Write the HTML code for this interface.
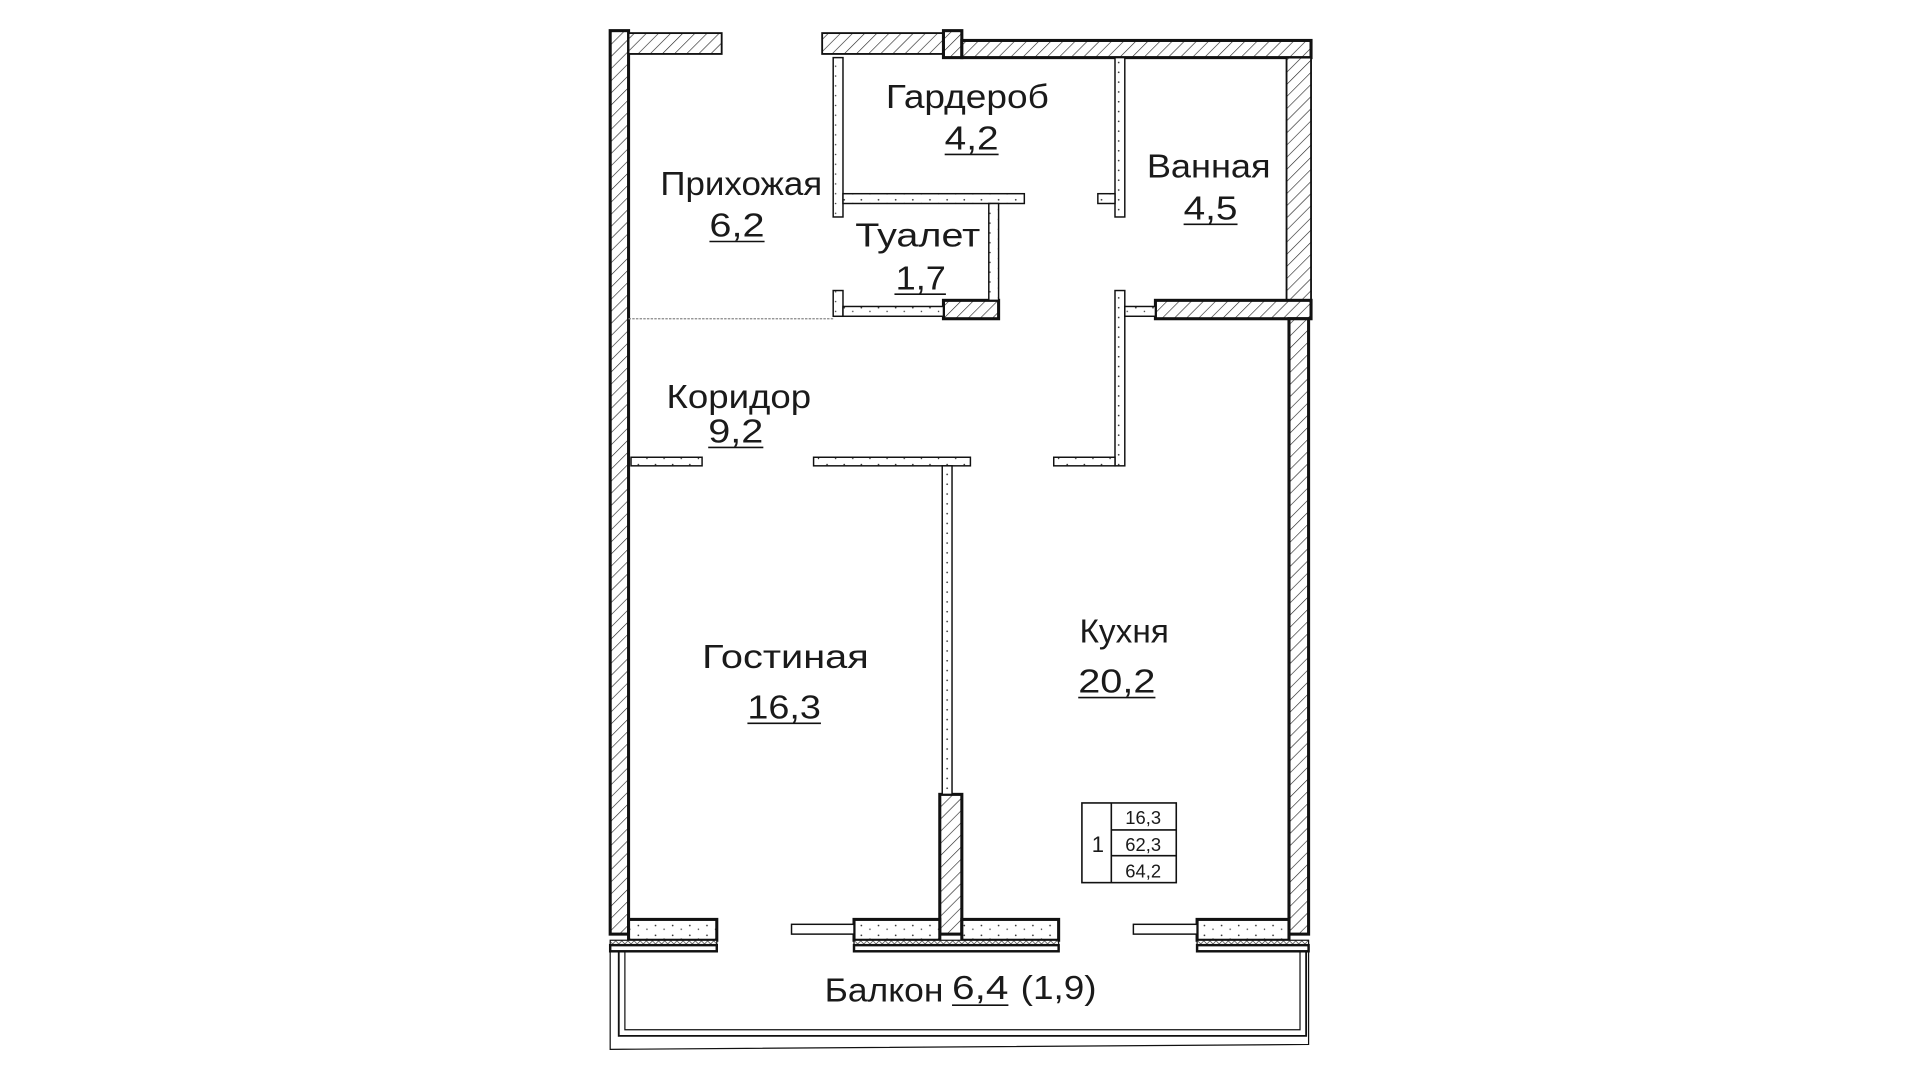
<!DOCTYPE html>
<html><head><meta charset="utf-8"><style>
html,body{margin:0;padding:0;background:#fff;width:1920px;height:1080px;overflow:hidden}
svg{display:block}
text{font-family:"Liberation Sans","DejaVu Sans",sans-serif;fill:#1a1a1a}
</style></head><body>
<svg width="1920" height="1080" viewBox="0 0 1567 881" preserveAspectRatio="none">
<defs>
<pattern id="h" width="7" height="7" patternUnits="userSpaceOnUse" patternTransform="rotate(45)">
<rect width="7" height="7" fill="#fff"/><line x1="0" y1="0" x2="0" y2="7" stroke="#222" stroke-width="1"/></pattern>
<pattern id="d" width="14" height="8" patternUnits="userSpaceOnUse">
<rect width="14" height="8" fill="#fff"/><circle cx="3" cy="3" r="0.7" fill="#333"/><circle cx="10" cy="6" r="0.6" fill="#333"/></pattern>
<pattern id="x" width="5" height="5" patternUnits="userSpaceOnUse">
<rect width="5" height="5" fill="#fff"/><path d="M0 0L5 5M5 0L0 5" stroke="#444" stroke-width="0.6"/></pattern>
</defs>
<g stroke="#111" stroke-width="1.5">
<rect x="498" y="25" width="15" height="737" fill="url(#h)" stroke-width="2.5"/>
<rect x="513" y="27" width="76" height="17" fill="url(#h)"/>
<rect x="671" y="27" width="99" height="17" fill="url(#h)"/>
<rect x="770" y="25" width="15" height="22" fill="url(#h)" stroke-width="2.5"/>
<rect x="785" y="33" width="285" height="14" fill="url(#h)" stroke-width="2.5"/>
<rect x="1050" y="47" width="20" height="198" fill="url(#h)"/>
<rect x="943" y="245" width="127" height="15" fill="url(#h)" stroke-width="2.5"/>
<rect x="1052" y="260" width="16" height="502" fill="url(#h)" stroke-width="2.5"/>
<rect x="770" y="245" width="45" height="15" fill="url(#h)" stroke-width="2.5"/>
<rect x="767" y="648" width="18" height="114" fill="url(#h)" stroke-width="2.5"/>
<g fill="url(#d)" stroke-width="1.2">
<rect x="680" y="47" width="8" height="130"/>
<rect x="688" y="158" width="148" height="8"/>
<rect x="807" y="166" width="8" height="79"/>
<rect x="680" y="237" width="8" height="21"/>
<rect x="688" y="250" width="82" height="8"/>
<rect x="910" y="47" width="8" height="130"/>
<rect x="896" y="158" width="14" height="8"/>
<rect x="910" y="237" width="8" height="143"/>
<rect x="918" y="250" width="25" height="8"/>
<rect x="860" y="373" width="50" height="7"/>
<rect x="515" y="373" width="58" height="7"/>
<rect x="664" y="373" width="128" height="7"/>
<rect x="769" y="380" width="8" height="268"/>
<rect x="513" y="750" width="72" height="17" stroke-width="2.5"/>
<rect x="697" y="750" width="70" height="17" stroke-width="2.5"/>
<rect x="785" y="750" width="79" height="17" stroke-width="2.5"/>
<rect x="977" y="750" width="75" height="17" stroke-width="2.5"/>
</g>
<g fill="url(#x)" stroke-width="1">
<rect x="498" y="767" width="87" height="4"/>
<rect x="697" y="767" width="167" height="4"/>
<rect x="977" y="767" width="91" height="4"/>
</g>
<g fill="#fff" stroke-width="2">
<rect x="498" y="771" width="87" height="5"/>
<rect x="697" y="771" width="167" height="5"/>
<rect x="977" y="771" width="91" height="5"/>
</g>
<rect x="646" y="754" width="51" height="8" fill="#fff" stroke-width="1.2"/>
<rect x="925" y="754" width="52" height="8" fill="#fff" stroke-width="1.2"/>
<path d="M505 776V845H1066V776" fill="none" stroke-width="1.5"/>
<path d="M510 776V840H1061V776" fill="none" stroke-width="1"/>
<path d="M498 776V856L1068 852V776" fill="none" stroke-width="1"/>
<line x1="513" y1="260" x2="680" y2="260" stroke="#888" stroke-width="1" stroke-dasharray="2,1"/>
<rect x="883" y="655" width="77" height="65" fill="none" stroke-width="1.3"/>
<line x1="907" y1="655" x2="907" y2="720" stroke-width="1.3"/>
<line x1="907" y1="677" x2="960" y2="677" stroke-width="1.3"/>
<line x1="907" y1="698" x2="960" y2="698" stroke-width="1.3"/>
</g>
<g font-size="27">
<text x="723" y="88" textLength="133" lengthAdjust="spacingAndGlyphs">Гардероб</text>
<text x="539" y="159" textLength="132" lengthAdjust="spacingAndGlyphs">Прихожая</text>
<text x="698" y="201" textLength="102" lengthAdjust="spacingAndGlyphs">Туалет</text>
<text x="936" y="145" textLength="101" lengthAdjust="spacingAndGlyphs">Ванная</text>
<text x="544" y="333" textLength="118" lengthAdjust="spacingAndGlyphs">Коридор</text>
<text x="573" y="545" textLength="136" lengthAdjust="spacingAndGlyphs">Гостиная</text>
<text x="881" y="524" textLength="73" lengthAdjust="spacingAndGlyphs">Кухня</text>
<text x="771" y="122" textLength="44" lengthAdjust="spacingAndGlyphs">4,2</text>
<text x="579" y="193" textLength="45" lengthAdjust="spacingAndGlyphs">6,2</text>
<text x="731" y="236" textLength="41" lengthAdjust="spacingAndGlyphs">1,7</text>
<text x="966" y="179" textLength="44" lengthAdjust="spacingAndGlyphs">4,5</text>
<text x="578" y="361" textLength="45" lengthAdjust="spacingAndGlyphs">9,2</text>
<text x="610" y="586" textLength="60" lengthAdjust="spacingAndGlyphs">16,3</text>
<text x="880" y="565" textLength="63" lengthAdjust="spacingAndGlyphs">20,2</text>
<text x="673" y="817" textLength="97" lengthAdjust="spacingAndGlyphs">Балкон</text>
<text x="777" y="815" textLength="46" lengthAdjust="spacingAndGlyphs">6,4</text>
<text x="833" y="815" textLength="62" lengthAdjust="spacingAndGlyphs">(1,9)</text>
</g>
<g stroke="#111" stroke-width="1.3">
<line x1="771" y1="126" x2="815" y2="126"/>
<line x1="579" y1="197" x2="624" y2="197"/>
<line x1="730" y1="240" x2="772" y2="240"/>
<line x1="966" y1="183" x2="1010" y2="183"/>
<line x1="578" y1="365" x2="623" y2="365"/>
<line x1="610" y1="590" x2="670" y2="590"/>
<line x1="880" y1="569" x2="943" y2="569"/>
<line x1="777" y1="820" x2="823" y2="820"/>
</g>
<g font-size="15" text-anchor="middle">
<text x="933" y="672">16,3</text>
<text x="933" y="694">62,3</text>
<text x="933" y="716">64,2</text>
<text x="896" y="695" font-size="18">1</text>
</g>
</svg>
</body></html>
